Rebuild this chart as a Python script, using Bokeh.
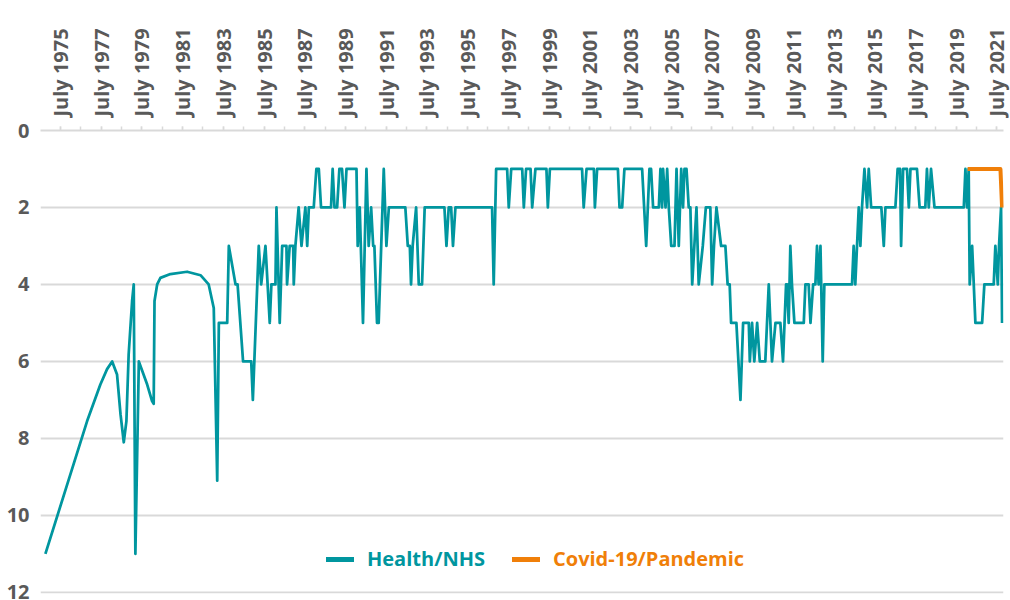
from bokeh.plotting import figure
from bokeh.models import Range1d, FixedTicker, CustomJSTickFormatter, Legend, LegendItem
from bokeh.embed import file_html
from bokeh.resources import INLINE

# Ranking of Health/NHS among most important issues (decimal year, rank)
health_dates = [
    1974.76, 1976.81, 1977.46, 1977.79, 1978.04, 1978.28, 1978.45, 1978.61, 1978.74, 1978.85,
    1979.02, 1979.10, 1979.18, 1979.35, 1979.76, 1980.00, 1980.08, 1980.12, 1980.25, 1980.41,
    1980.90, 1981.72, 1982.38, 1982.78, 1983.03, 1983.20, 1983.28, 1983.69, 1983.77, 1984.10,
    1984.20, 1984.47, 1984.87, 1984.95, 1985.24, 1985.36, 1985.57, 1985.78, 1985.86, 1986.06,
    1986.11, 1986.27, 1986.39, 1986.60, 1986.63, 1986.76, 1986.93, 1986.96, 1987.04, 1987.20,
    1987.34, 1987.53, 1987.62, 1987.70, 1987.94, 1988.07, 1988.19, 1988.30, 1988.79, 1988.87,
    1988.96, 1989.09, 1989.20, 1989.33, 1989.45, 1989.55, 1990.04, 1990.10, 1990.20, 1990.36,
    1990.53, 1990.64, 1990.76, 1990.86, 1990.92, 1991.05, 1991.13, 1991.38, 1991.51, 1991.63,
    1992.44, 1992.56, 1992.66, 1992.72, 1992.80, 1992.97, 1993.10, 1993.26, 1993.39, 1994.36,
    1994.46, 1994.57, 1994.69, 1994.78, 1994.90, 1996.70, 1996.78, 1996.90, 1997.44, 1997.52,
    1997.64, 1998.18, 1998.26, 1998.37, 1998.59, 1998.67, 1998.83, 1999.37, 1999.44, 1999.54,
    2001.12, 2001.20, 2001.34, 2001.70, 2001.75, 2001.86, 2002.88, 2002.96, 2003.09, 2003.20,
    2004.07, 2004.27, 2004.43, 2004.51, 2004.61, 2004.89, 2004.97, 2005.05, 2005.10, 2005.22,
    2005.30, 2005.38, 2005.50, 2005.66, 2005.76, 2005.87, 2005.99, 2006.08, 2006.15, 2006.25,
    2006.36, 2006.44, 2006.53, 2006.74, 2006.85, 2007.05, 2007.20, 2007.42, 2007.51, 2007.60,
    2007.72, 2007.95, 2008.16, 2008.27, 2008.37, 2008.44, 2008.70, 2008.90, 2009.03, 2009.31,
    2009.36, 2009.47, 2009.58, 2009.72, 2009.85, 2010.12, 2010.29, 2010.45, 2010.62, 2010.86,
    2010.99, 2011.14, 2011.19, 2011.27, 2011.35, 2011.43, 2011.55, 2012.01, 2012.09, 2012.25,
    2012.34, 2012.47, 2012.58, 2012.66, 2012.74, 2012.83, 2012.94, 2013.02, 2014.38, 2014.46,
    2014.54, 2014.71, 2014.79, 2014.87, 2014.99, 2015.12, 2015.20, 2015.32, 2015.82, 2015.94,
    2016.02, 2016.51, 2016.62, 2016.74, 2016.79, 2016.89, 2017.08, 2017.17, 2017.25, 2017.57,
    2017.70, 2017.98, 2018.06, 2018.15, 2018.26, 2018.43, 2019.87, 2019.95, 2020.03, 2020.11,
    2020.16, 2020.28, 2020.44, 2020.77, 2020.88, 2021.34, 2021.42, 2021.54, 2021.60, 2021.70,
    2021.75,
]
health_rank = [
    11, 7.55, 6.6, 6.2, 6, 6.34, 7.37, 8.1, 7.55, 5.82,
    4.43, 4, 11, 6, 6.6, 7.03, 7.1, 4.43, 4.0, 3.83,
    3.73, 3.67, 3.76, 4.0, 4.61, 9.1, 5, 5, 3, 4,
    4, 6, 6, 7, 3, 4, 3, 5, 4, 4,
    2, 5, 3, 3, 4, 3, 3, 4, 3, 2,
    3, 2, 3, 2, 2, 1, 1, 2, 2, 1,
    2, 2, 1, 1, 2, 1, 1, 3, 2, 5,
    1, 3, 2, 3, 3, 5, 5, 1, 3, 2,
    2, 3, 3, 4, 3, 2, 4, 4, 2, 2,
    3, 2, 2, 3, 2, 2, 4, 1, 1, 2,
    1, 1, 2, 1, 1, 2, 1, 1, 2, 1,
    1, 2, 1, 1, 2, 1, 1, 2, 2, 1,
    1, 3, 1, 1, 2, 2, 1, 2, 1, 2,
    1, 2, 3, 3, 1, 3, 1, 2, 1, 1,
    2, 2, 4, 2, 4, 3, 2, 2, 4, 3,
    2, 3, 3, 4, 4, 5, 5, 7, 5, 5,
    6, 5, 6, 5, 6, 6, 4, 6, 5, 5,
    6, 4, 4, 5, 3, 4, 5, 5, 4, 4,
    5, 4, 4, 3, 4, 3, 6, 4, 4, 3,
    4, 2, 3, 2, 1, 2, 1, 2, 2, 3,
    2, 2, 1, 1, 3, 1, 1, 2, 1, 1,
    2, 2, 1, 2, 1, 2, 2, 1, 2, 1,
    4, 3, 5, 5, 4, 4, 3, 4, 3, 2,
    5,
]

covid_dates = [2020.06, 2021.67, 2021.75]
covid_rank = [1, 1, 2]

label_years = list(range(1975, 2022, 2))   # labelled ticks: July of odd years
tick_years = list(range(1975, 2022))       # tick marks every July
y_ticks = [0, 2, 4, 6, 8, 10, 12]

TEAL = "#00969f"
ORANGE = "#f07f09"
GREY_TXT = "#595959"
GRID = "#d9d9d9"
FONT = "Open Sans"

p = figure(width=1010, height=600,
           x_range=Range1d(1974.52, 2021.82), y_range=Range1d(12.03, 0),
           x_axis_location="above",
           output_backend="svg", toolbar_location=None,
           min_border_left=40, min_border_right=7, min_border_top=130, min_border_bottom=7)
p.outline_line_color = None
p.background_fill_color = "white"

# x axis (top)
xa = p.xaxis[0]
xa.ticker = FixedTicker(ticks=[y + 0.5 for y in label_years],
                        minor_ticks=[y + 0.5 for y in tick_years])
xa.formatter = CustomJSTickFormatter(code="return 'July ' + Math.floor(tick);")
xa.major_label_orientation = "vertical"
xa.major_label_text_font = FONT
xa.major_label_text_font_style = "bold"
xa.major_label_text_font_size = "20px"
xa.major_label_text_color = GREY_TXT
xa.major_label_standoff = 10
xa.axis_line_color = GRID
xa.axis_line_width = 2
xa.major_tick_line_color = GRID
xa.minor_tick_line_color = GRID
xa.major_tick_line_width = 1.5
xa.minor_tick_line_width = 1.5
xa.major_tick_in = 0
xa.major_tick_out = 4
xa.minor_tick_in = 0
xa.minor_tick_out = 4

# y axis (left)
ya = p.yaxis[0]
ya.ticker = FixedTicker(ticks=y_ticks)
ya.axis_line_color = None
ya.major_tick_line_color = None
ya.minor_tick_line_color = None
ya.major_label_text_font = FONT
ya.major_label_text_font_style = "bold"
ya.major_label_text_font_size = "20px"
ya.major_label_text_color = GREY_TXT
ya.major_label_standoff = 5

p.xgrid.visible = False
p.ygrid.grid_line_color = GRID
p.ygrid.grid_line_width = 2

p.line(health_dates, health_rank, line_color=TEAL, line_width=2.75, line_join="round")
p.line(covid_dates, covid_rank, line_color=ORANGE, line_width=4, line_join="round")

# legend samples (thicker strokes, as in the original); NaN data so nothing shows in the plot
nan = float("nan")
leg_h = p.line(x=[nan, nan], y=[nan, nan], line_color=TEAL, line_width=5, line_cap="round")
leg_c = p.line(x=[nan, nan], y=[nan, nan], line_color=ORANGE, line_width=5, line_cap="round")

def make_legend(label, rend, color, loc):
    lg = Legend(items=[LegendItem(label=label, renderers=[rend])], location=loc,
                orientation="horizontal", padding=0, margin=0, spacing=0,
                border_line_alpha=0, background_fill_alpha=0,
                glyph_width=28, glyph_height=20, label_height=20, label_standoff=13,
                label_text_font=FONT, label_text_font_style="bold",
                label_text_font_size="20px", label_text_color=color)
    return lg

p.add_layout(make_legend("Health/NHS", leg_h, TEAL, (286, 21)))
p.add_layout(make_legend("Covid-19/Pandemic", leg_c, ORANGE, (472, 21)))

open("out.html", "w").write(file_html(p, INLINE))
